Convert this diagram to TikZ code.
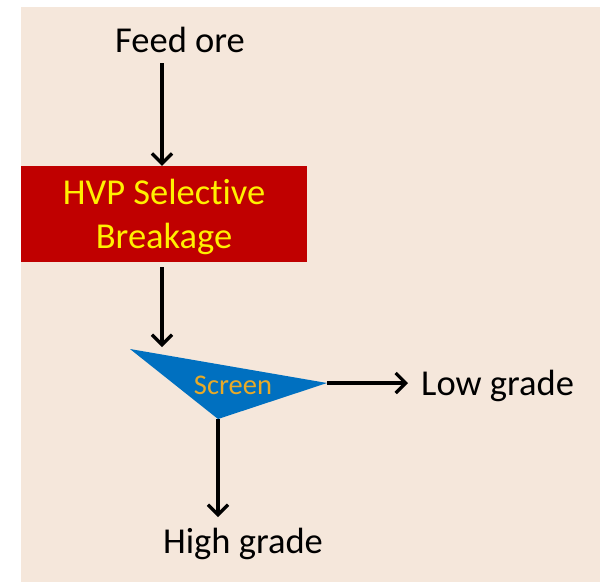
\documentclass[tikz,border=0pt]{standalone}
\usepackage{fontspec}
\setmainfont{Carlito}[Ligatures=NoCommon]
\usetikzlibrary{arrows.meta,calc}
\definecolor{bgbeige}{RGB}{245,231,219}
\definecolor{boxred}{RGB}{192,0,0}
\definecolor{boxyellow}{RGB}{255,240,0}
\definecolor{screenblue}{RGB}{0,112,192}
\definecolor{screengold}{RGB}{232,170,40}
\begin{document}
\begin{tikzpicture}[x=1pt,y=-1pt,
  lbl/.style={inner sep=0pt,font=\fontsize{36.5}{42}\selectfont,text=black},
  arr/.style={line width=3.3pt,-{Straight Barb[length=10pt,width=20pt]}},
  hvpbox/.style={fill=boxred,draw=none,minimum width=286pt,minimum height=96pt,inner sep=0pt},
  hvplabel/.style={inner sep=0pt,text=boxyellow,font=\fontsize{36.5}{44}\selectfont,align=center}]
\useasboundingbox (0,0) rectangle (602,582);
\fill[bgbeige] (21,7) rectangle (600,582);
\node[lbl] (feed) at (180,40) {Feed ore};
\node[hvpbox] (hvp) at (164,214) {};
\node[hvplabel] (hvptext) at (164,217) {HVP Selective\\Breakage};
\coordinate (sa) at (130,349);
\coordinate (sb) at (327,383);
\coordinate (sc) at (218,419);
\fill[screenblue] (sa) -- (sb) -- (sc) -- cycle;
\node[inner sep=0pt,text=screengold,font=\fontsize{28.5}{32}\selectfont] (screen) at (233,385) {Screen};
\node[lbl,anchor=west] (low) at (421,386) {Low grade};
\node[lbl] (high) at (243,544) {High grade};
\coordinate (in1) at (162,63);
\coordinate (in2) at (162,267);
\coordinate (in2e) at (162,347);
\coordinate (outhigh) at (218,517);
\draw[arr] (in1) -- (in1 |- hvp.north);
\draw[arr] (in2) -- (in2e);
\draw[arr] (sb) -- ($(low.west)+(-13,-3)$);
\draw[arr] (sc) -- (outhigh);
\end{tikzpicture}
\end{document}
